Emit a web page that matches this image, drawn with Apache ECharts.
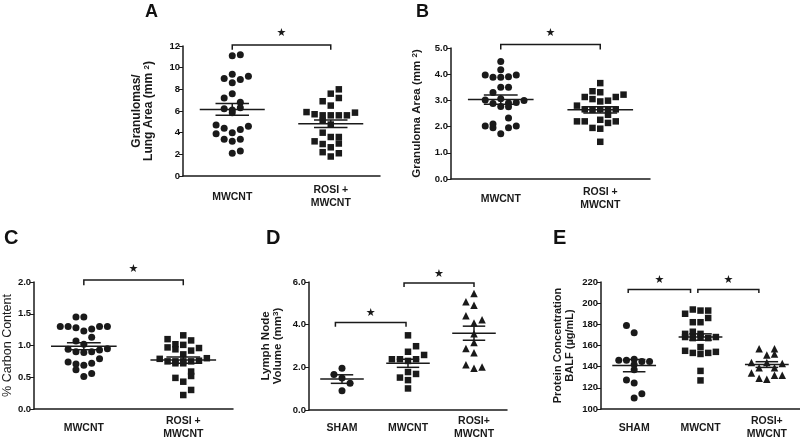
<!DOCTYPE html>
<html>
<head>
<meta charset="utf-8">
<script src="https://cdn.jsdelivr.net/npm/echarts@6/dist/echarts.min.js"></script>
<style>
html, body { margin: 0; padding: 0; background: #fff; }
#chart { width: 800px; height: 441px; }
</style>
</head>
<body>
<div id="chart"></div>
<script>
// ---- data ----
// A: granulomas / lung area
var aCats = ['MWCNT', 'ROSI +\nMWCNT'];
var aMwcnt = [11.1, 11.2, 9.0, 9.4, 8.9, 9.2, 8.6, 7.6, 7.2, 6.8, 6.2, 6.1, 6.3, 5.85, 4.7, 4.4, 4.0, 4.3, 4.6, 3.9, 3.4, 3.2, 3.4, 2.1, 2.3];
var aMwcntCol = [0, 1, -1, 0, 1, 2, 0, 0, -1, 1, -1, 0, 1, 0, -2, -1, 0, 1, 2, -2, -1, 0, 1, 0, 1];
var aRosi = [8.0, 7.6, 7.2, 6.9, 6.5, 5.9, 5.7, 5.6, 5.6, 5.6, 5.6, 5.85, 5.1, 4.75, 4.0, 3.6, 3.6, 3.2, 2.95, 3.0, 2.65, 2.2, 2.1, 1.8];
var aRosiCol = [1, 0, 1, -1, 0, -3, -2, -1, 0, 1, 2, 3, -1, 0, -1, 0, 1, -2, -1, 1, 0, -1, 1, 0];
var aMean = [6.15, 4.82];
var aSem = [0.55, 0.35];

// B: granuloma area
var bCats = ['MWCNT', 'ROSI +\nMWCNT'];
var bMwcnt = [4.48, 4.17, 3.97, 3.88, 3.88, 3.9, 3.97, 3.5, 3.5, 3.3, 3.02, 3.06, 3.0, 2.88, 2.9, 2.92, 2.77, 2.76, 2.33, 2.1, 2.02, 1.96, 1.96, 2.02, 1.73];
var bMwcntCol = [0, 0, -2, -1, 0, 1, 2, 0, 1, -1, -2, 0, 3, -1, 1, 2, 0, 1, 1, -1, -2, -1, 1, 2, 0];
var bRosi = [3.66, 3.35, 3.31, 3.13, 3.05, 3.13, 3.22, 2.8, 2.96, 2.99, 2.66, 2.64, 2.66, 2.64, 2.66, 2.45, 2.2, 2.2, 2.26, 2.14, 2.2, 1.95, 1.92, 1.42];
var bRosiCol = [0, -1, 0, -2, -1, 2, 3, -3, 0, 1, -2, -1, 0, 1, 2, 1, -3, -2, 0, 1, 2, -1, 0, 0];
var bMean = [3.03, 2.64];
var bSem = [0.18, 0.12];

// C: % carbon content
var cCats = ['MWCNT', 'ROSI +\nMWCNT'];
var cMwcnt = [1.45, 1.45, 1.3, 1.3, 1.28, 1.23, 1.26, 1.3, 1.3, 1.13, 1.07, 1.02, 0.94, 0.9, 0.89, 0.9, 0.93, 0.95, 0.79, 0.74, 0.71, 0.69, 0.72, 0.62, 0.56, 0.51];
var cMwcntCol = [-1, 0, -3, -2, -1, 0, 1, 2, 3, 1, -1, 0, -2, -1, 0, 1, 2, 3, 2, -2, -1, 0, 1, -1, 1, 0];
var cRosi = [1.1, 1.16, 1.08, 0.97, 1.02, 0.94, 1.01, 0.96, 0.92, 0.86, 0.79, 0.8, 0.75, 0.75, 0.75, 0.75, 0.76, 0.72, 0.72, 0.59, 0.52, 0.49, 0.43, 0.3, 0.22];
var cRosiCol = [-2, 0, 1, -2, -1, -1, 0, 2, 1, 0, -3, 3, -2, -1, 0, 1, 2, -1, 0, 1, 1, -1, 0, 1, 0];
var cMean = [0.99, 0.77];
var cSem = [0.055, 0.05];

// D: lymph node volume
var dCats = ['SHAM', 'MWCNT', 'ROSI+\nMWCNT'];
var dSham = [1.96, 1.66, 1.5, 1.25, 0.9];
var dShamCol = [0, -1, 0, 1, 0];
var dMwcnt = [3.5, 2.99, 2.73, 2.58, 2.38, 2.38, 2.38, 2.3, 1.78, 1.69, 1.52, 1.4, 1.01];
var dMwcntCol = [0, 1, 0, 2, -2, -1, 1, 0, 0, 1, -1, 0, 0];
var dRosi = [5.46, 5.08, 4.91, 4.42, 4.23, 4.08, 3.57, 3.16, 2.88, 2.68, 2.12, 1.96, 2.02];
var dRosiCol = [0, -1, 0, -1, 1, 0, 0, 0, -1, 0, -1, 0, 1];
var dMean = [1.45, 2.19, 3.6];
var dSem = [0.2, 0.19, 0.33];

// E: BALF protein concentration
var eCats = ['SHAM', 'MWCNT', 'ROSI+\nMWCNT'];
var eSham = [179, 172, 146, 146, 147, 145, 145, 142, 137, 127.5, 124.5, 114.5, 110.5];
var eShamCol = [-1, 0, -2, -1, 0, 1, 2, 0, 0, -1, 0, 1, 0];
var eMwcnt = [190, 194, 193, 193, 186, 182, 182, 173, 171, 171, 168, 167, 168, 167, 168, 158.5, 155, 153, 152, 153, 154, 136, 127];
var eMwcntCol = [-2, -1, 0, 1, 1, -1, 0, -1, -2, 0, -2, -1, 0, 1, 2, 0, -2, -1, 0, 1, 2, 0, 0];
var eRosi = [157, 157, 151, 152, 144, 144, 143, 139, 139, 134, 129, 128, 132, 132];
var eRosiCol = [-1, 1, 0, 1, -2, 0, 2, -1, 1, -2, -1, 0, 1, 2];
var eMean = [141, 168, 142];
var eSem = [5.8, 3.0, 2.7];

// significance brackets: [from, to, top, tick end, star]
var aBrackets = [[0, 1, 12.1, 11.65, 13.15]];
var bBrackets = [[0, 1, 5.13, 4.94, 5.55]];
var cBrackets = [[0, 1, 2.03, 1.95, 2.2]];
var dBrackets = [[-0.1, 0.97, 4.1, 3.9, 4.52], [0.94, 2.0, 5.95, 5.77, 6.37]];
var eBrackets = [[-0.09, 0.85, 213, 209.5, 221.5], [0.96, 1.88, 213, 209.5, 221.5]];

var FONT = 'Liberation Sans, Arial, sans-serif';
var INK = '#1a1a1a';

var panels = [
	{
		letter: 'A', letterPos: [145, 12], letterSize: 18,
		grid: { left: 183, top: 46, width: 197, height: 130 },
		cats: aCats, step: 0.082, margin: 21,
		groups: [[aMwcnt, aMwcntCol, 'circle'], [aRosi, aRosiCol, 'rect']],
		mean: aMean, sem: aSem, brackets: aBrackets,
		y: { min: 0, max: 12, interval: 2, dec: 0 },
		name: 'Granulomas/\nLung Area (mm {sup|2})', nameGap: 28, nameBold: true, nameSize: 12
	},
	{
		letter: 'B', letterPos: [416, 12], letterSize: 18,
		grid: { left: 451, top: 48, width: 199, height: 131 },
		cats: bCats, step: 0.078, margin: 20,
		groups: [[bMwcnt, bMwcntCol, 'circle'], [bRosi, bRosiCol, 'rect']],
		mean: bMean, sem: bSem, brackets: bBrackets,
		y: { min: 0, max: 5, interval: 1, dec: 1 },
		name: 'Granuloma Area (mm {sup|2})', nameGap: 28, nameBold: true, nameSize: 11.5
	},
	{
		letter: 'C', letterPos: [4, 238], letterSize: 20,
		grid: { left: 32, top: 282, width: 201, height: 131 },
		cats: cCats, step: 0.079, margin: 19,
		groups: [[cMwcnt, cMwcntCol, 'circle'], [cRosi, cRosiCol, 'rect']],
		mean: cMean, sem: cSem, brackets: cBrackets,
		y: { min: 0, max: 2, interval: 0.5, dec: 1 },
		name: '% Carbon Content', nameGap: 15, nameBold: false, nameSize: 12.5
	},
	{
		letter: 'D', letterPos: [266, 238], letterSize: 20,
		grid: { left: 309, top: 282, width: 198, height: 131 },
		cats: dCats, step: 0.122, margin: 18,
		groups: [[dSham, dShamCol, 'circle'], [dMwcnt, dMwcntCol, 'rect'], [dRosi, dRosiCol, 'triangle']],
		mean: dMean, sem: dSem, brackets: dBrackets,
		y: { min: 0, max: 6, interval: 2, dec: 1 },
		name: 'Lymph Node\nVolume (mm{sup|3})', nameGap: 25, nameBold: true, nameSize: 11.5
	},
	{
		letter: 'E', letterPos: [553, 238], letterSize: 20,
		grid: { left: 601, top: 282, width: 200, height: 130 },
		cats: eCats, step: 0.116, margin: 19,
		groups: [[eSham, eShamCol, 'circle'], [eMwcnt, eMwcntCol, 'rect'], [eRosi, eRosiCol, 'triangle']],
		mean: eMean, sem: eSem, brackets: eBrackets,
		y: { min: 100, max: 220, interval: 20, dec: 0 },
		name: 'Protein Concentration\nBALF (\u00b5g/mL)', nameGap: 25, nameBold: true, nameSize: 11
	}
];

var symbolSizes = { circle: 7, rect: 6.5, triangle: 7.5 };

function renderMean(params, api) {
	var x = api.value(0), m = api.value(1), s = api.value(2);
	var st = { stroke: INK, lineWidth: 1.5 };
	function seg(x1, y1, x2, y2) {
		var p = api.coord([x1, y1]), q = api.coord([x2, y2]);
		return { type: 'line', shape: { x1: p[0], y1: p[1], x2: q[0], y2: q[1] }, style: st };
	}
	return {
		type: 'group',
		children: [
			seg(x - 0.33, m, x + 0.33, m),
			seg(x - 0.17, m + s, x + 0.17, m + s),
			seg(x - 0.17, m - s, x + 0.17, m - s),
			seg(x, m - s, x, m + s)
		]
	};
}

function renderBracket(params, api) {
	var x1 = api.value(0), x2 = api.value(1), top = api.value(2), tick = api.value(3), star = api.value(4);
	var pts = [api.coord([x1, tick]), api.coord([x1, top]), api.coord([x2, top]), api.coord([x2, tick])];
	var s = api.coord([(x1 + x2) / 2, star]);
	return {
		type: 'group',
		children: [
			{ type: 'polyline', shape: { points: pts }, style: { stroke: INK, lineWidth: 1.5, fill: null } },
			{ type: 'text', x: s[0], y: s[1], style: { text: '\u2605', fill: INK, font: '11px DejaVu Sans', align: 'center', verticalAlign: 'middle' } }
		]
	};
}

var option = { animation: false, grid: [], xAxis: [], yAxis: [], series: [], graphic: [] };

panels.forEach(function (p, k) {
	option.grid.push(p.grid);
	option.xAxis.push({
		type: 'category', gridIndex: k, data: p.cats,
		axisLine: { onZero: false, lineStyle: { color: INK, width: 1.5 } },
		axisTick: { show: false },
		axisLabel: {
			interval: 0, margin: p.margin, verticalAlign: 'middle', lineHeight: 13,
			fontFamily: FONT, fontWeight: 'bold', fontSize: 10.5, color: '#1a1a1a'
		}
	});
	option.xAxis.push({ type: 'value', gridIndex: k, min: -0.5, max: p.cats.length - 0.5, show: false });
	option.yAxis.push({
		type: 'value', gridIndex: k, min: p.y.min, max: p.y.max, interval: p.y.interval,
		name: p.name, nameLocation: 'middle', nameGap: p.nameGap,
		nameTextStyle: {
			fontFamily: FONT, fontWeight: p.nameBold ? 'bold' : 'normal',
			fontSize: p.nameSize, color: '#1a1a1a', lineHeight: 12,
			rich: { sup: { fontFamily: FONT, fontWeight: 'bold', fontSize: 8, verticalAlign: 'top', color: '#1a1a1a' } }
		},
		axisLine: { show: true, onZero: false, lineStyle: { color: INK, width: 1.5 } },
		axisTick: { show: true, length: 4, lineStyle: { color: INK, width: 1 } },
		splitLine: { show: false },
		axisLabel: {
			margin: 3, fontFamily: FONT, fontWeight: 'bold', fontSize: 9.5, color: '#111',
			formatter: (function (dec) { return function (v) { return v.toFixed(dec); }; })(p.y.dec)
		}
	});
	p.groups.forEach(function (g, gi) {
		option.series.push({
			type: 'scatter', xAxisIndex: 2 * k + 1, yAxisIndex: k,
			symbol: g[2], symbolSize: symbolSizes[g[2]],
			itemStyle: { color: INK, opacity: 1 },
			data: g[0].map(function (v, i) { return [gi + g[1][i] * p.step, v]; })
		});
	});
	option.series.push({
		type: 'custom', xAxisIndex: 2 * k + 1, yAxisIndex: k, z: 5,
		renderItem: renderMean,
		encode: { x: 0, y: 1 },
		data: p.mean.map(function (m, i) { return [i, m, p.sem[i]]; })
	});
	option.series.push({
		type: 'custom', xAxisIndex: 2 * k + 1, yAxisIndex: k, clip: false,
		renderItem: renderBracket,
		encode: { x: [0, 1], y: [2, 3, 4] },
		data: p.brackets
	});
	option.graphic.push({
		type: 'text', x: p.letterPos[0], y: p.letterPos[1],
		style: { text: p.letter, fill: '#111', font: 'bold ' + p.letterSize + 'px ' + FONT, align: 'left', verticalAlign: 'middle' }
	});
});

var myChart = echarts.init(document.getElementById('chart'));
myChart.setOption(option);
</script>
</body>
</html>
